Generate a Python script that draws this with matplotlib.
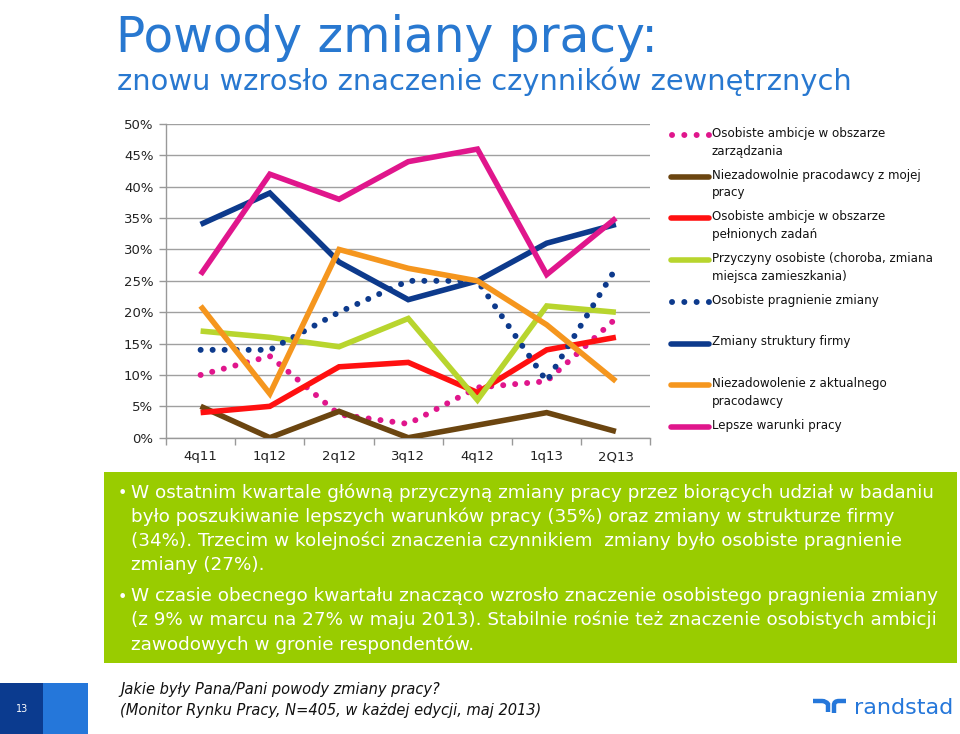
import matplotlib
matplotlib.use('Agg')
import matplotlib.pyplot as plt
from matplotlib.lines import Line2D
from matplotlib.patches import Rectangle
from matplotlib.path import Path
from matplotlib.patches import PathPatch

plt.rcParams['font.family'] = ['DejaVu Sans']

# ---------------- data ----------------
quarters = ['4q11', '1q12', '2q12', '3q12', '4q12', '1q13', '2Q13']
ambicje_zarzadzanie = [10, 13, 3.7, 2.2, 8, 9, 19]
niezadowolnie_pracodawcy = [5, 0, 4.2, 0, 2, 4, 1]
ambicje_zadania = [4, 5, 11.3, 12, 7.2, 14, 16]
przyczyny_osobiste = [17, 16, 14.5, 19, 6, 21, 20]
pragnienie_zmiany = [14, 14, 20, 25, 25, 9, 27]
struktura_firmy = [34, 39, 28, 22, 25, 31, 34]
niezadowolenie_pracodawca = [21, 7, 30, 27, 25, 18, 9]
lepsze_warunki = [26, 42, 38, 44, 46, 26, 35]

series_labels = [
    'Osobiste ambicje w obszarze\nzarządzania',
    'Niezadowolnie pracodawcy z mojej\npracy',
    'Osobiste ambicje w obszarze\npełnionych zadań',
    'Przyczyny osobiste (choroba, zmiana\nmiejsca zamieszkania)',
    'Osobiste pragnienie zmiany',
    'Zmiany struktury firmy',
    'Niezadowolenie z aktualnego\npracodawcy',
    'Lepsze warunki pracy',
]
y_ticks = [0, 5, 10, 15, 20, 25, 30, 35, 40, 45, 50]
y_tick_labels = ['0%', '5%', '10%', '15%', '20%', '25%', '30%', '35%', '40%', '45%', '50%']

title = 'Powody zmiany pracy:'
subtitle = 'znowu wzrosło znaczenie czynników zewnętrznych'
bullets = [
    'W ostatnim kwartale główną przyczyną zmiany pracy przez biorących udział w badaniu\n'
    'było poszukiwanie lepszych warunków pracy (35%) oraz zmiany w strukturze firmy\n'
    '(34%). Trzecim w kolejności znaczenia czynnikiem  zmiany było osobiste pragnienie\n'
    'zmiany (27%).',
    'W czasie obecnego kwartału znacząco wzrosło znaczenie osobistego pragnienia zmiany\n'
    '(z 9% w marcu na 27% w maju 2013). Stabilnie rośnie też znaczenie osobistych ambicji\n'
    'zawodowych w gronie respondentów.',
]
footnote = 'Jakie były Pana/Pani powody zmiany pracy?\n(Monitor Rynku Pracy, N=405, w każdej edycji, maj 2013)'
page_no = '13'

# ---------------- styles ----------------
MAGENTA = '#E0168C'
BROWN = '#6B4510'
RED = '#FF1010'
LIME = '#B8D52E'
NAVY = '#0D3A8C'
ORANGE = '#F5961E'
BLUE = '#2878D0'
GREEN = '#99CC00'

series = [ambicje_zarzadzanie, niezadowolnie_pracodawcy, ambicje_zadania, przyczyny_osobiste,
          pragnienie_zmiany, struktura_firmy, niezadowolenie_pracodawca, lepsze_warunki]
colors = [MAGENTA, BROWN, RED, LIME, NAVY, NAVY, ORANGE, MAGENTA]
dotted = [True, False, False, False, True, False, False, False]

W, H = 960, 734
fig = plt.figure(figsize=(W / 100, H / 100), dpi=100)
fig.patch.set_facecolor('white')

def fx(px):
    return px / W

def fy(py):
    return 1 - py / H

# ---------------- chart ----------------
ax = fig.add_axes([fx(166), fy(437.7), fx(650.5) - fx(166), fy(124) - fy(437.7)])
x = list(range(len(quarters)))
LW = 4.0
DLW = 4.3
DOTS = (0, (0.01, 2.0))
for vals, c, d in zip(series, colors, dotted):
    if d:
        ax.plot(x, vals, color=c, lw=DLW, linestyle=DOTS,
                dash_capstyle='round', zorder=3)
    else:
        ax.plot(x, vals, color=c, lw=LW, solid_joinstyle='miter', solid_capstyle='butt', zorder=3)
ax.set_xlim(-0.5, len(quarters) - 0.5)
ax.set_ylim(0, 50)
ax.set_yticks(y_ticks)
ax.set_yticklabels(y_tick_labels, fontsize=9.5, color='#222222')
ax.set_xticks(x)
ax.set_xticklabels(quarters, fontsize=9.5, color='#222222')
ax.tick_params(axis='x', length=0, pad=9)
ax.set_xticks([i - 0.5 for i in range(len(quarters) + 1)], minor=True)
ax.tick_params(axis='x', which='minor', length=5, color='#999999', width=1)
ax.tick_params(axis='y', length=5, color='#999999', width=1, pad=4)
ax.grid(axis='y', color='#A0A0A0', lw=1)
ax.set_axisbelow(True)
for s in ['top', 'right']:
    ax.spines[s].set_visible(False)
for s in ['left', 'bottom']:
    ax.spines[s].set_color('#999999')
    ax.spines[s].set_linewidth(1)

# ---------------- legend ----------------
leg_y0 = 135
leg_dy = 41.7
for i, (lab, c, d) in enumerate(zip(series_labels, colors, dotted)):
    yy = leg_y0 + i * leg_dy
    if d:
        fig.add_artist(Line2D([fx(672), fx(710)], [fy(yy), fy(yy)], color=c, lw=DLW,
                              linestyle=(0, (0.01, 2.05)), dash_capstyle='round'))
    else:
        fig.add_artist(Line2D([fx(671), fx(709)], [fy(yy), fy(yy)], color=c, lw=LW,
                              solid_capstyle='round'))
    fig.text(fx(712), fy(yy - 8), lab, fontsize=8.6, color='#111111', va='top', ha='left',
             linespacing=1.45)

# ---------------- titles ----------------
fig.text(fx(116), fy(52), title, fontsize=35, color=BLUE, ha='left', va='baseline')
fig.text(fx(117), fy(90), subtitle, fontsize=20.8, color=BLUE, ha='left', va='baseline')

# ---------------- green box ----------------
fig.add_artist(Rectangle((fx(104), fy(663)), fx(957) - fx(104), fy(472) - fy(663),
                         transform=fig.transFigure, facecolor=GREEN, edgecolor='none'))
tops = [483, 587]
bases = [498, 602]
for b, t, bl in zip(bullets, tops, bases):
    fig.text(fx(122), fy(bl), '•', fontsize=11.5, color='white', va='baseline', ha='center')
    fig.text(fx(131), fy(t), b, fontsize=13.2, color='white', va='top', ha='left',
             linespacing=1.41)

# ---------------- footer ----------------
fig.add_artist(Rectangle((0, 0), fx(43), fy(683), transform=fig.transFigure,
                         facecolor='#0B3B8F', edgecolor='none'))
fig.add_artist(Rectangle((fx(43), 0), fx(88) - fx(43), fy(683), transform=fig.transFigure,
                         facecolor='#2577DA', edgecolor='none'))
fig.text(fx(22), fy(709), page_no, fontsize=7, color='white', ha='center', va='center')
fig.text(fx(120), fy(682), footnote, fontsize=10.5, style='italic', color='#111111',
         ha='left', va='top', linespacing=1.5)

# randstad logo
LOGO = '#2577DA'
verts_l = [(813, 701), (822, 701), (826, 701), (828, 704), (828, 712)]
codes_l = [Path.MOVETO, Path.LINETO, Path.CURVE3, Path.CURVE3, Path.LINETO]
verts_r = [(834, 713), (834, 705), (834, 701), (839, 701), (846, 701)]
codes_r = [Path.MOVETO, Path.LINETO, Path.CURVE3, Path.CURVE3, Path.LINETO]
for v, cds in [(verts_l, codes_l), (verts_r, codes_r)]:
    p = Path([(fx(a), fy(b)) for a, b in v], cds)
    fig.add_artist(PathPatch(p, transform=fig.transFigure, facecolor='none',
                             edgecolor=LOGO, lw=3.2, capstyle='butt'))
fig.text(fx(854), fy(714), 'randstad', fontsize=16, color=LOGO, ha='left', va='baseline')

fig.savefig('out.png', dpi=100)
